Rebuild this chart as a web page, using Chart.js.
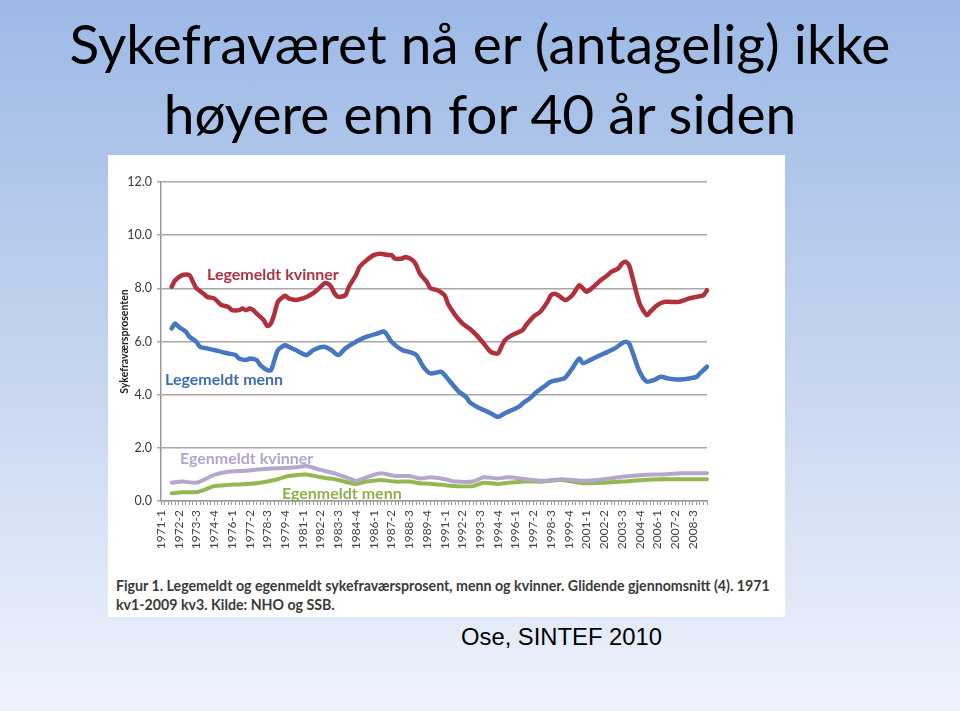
<!DOCTYPE html>
<html lang="no">
<head>
<meta charset="utf-8">
<title>Sykefraværet</title>
<script src="https://cdn.jsdelivr.net/npm/chart.js@4.4.1/dist/chart.umd.min.js"></script>
<style>
    html, body { margin: 0; padding: 0; }
    body {
        width: 960px; height: 711px; overflow: hidden; position: relative;
        background: linear-gradient(180deg, #9cb9e6 0%, #c4d4ef 50%, #eef3fb 100%);
        font-family: Lato, "Open Sans", sans-serif;
    }
    .tittel {
        position: absolute; left: 0; top: 8px; width: 960px;
        text-align: center; font-size: 55px; line-height: 70px; color: #000;
    }
    .figur {
        position: absolute; left: 108px; top: 155px; width: 677px; height: 462px;
        background: #fff;
    }
    #chart { position: absolute; left: 0; top: 0; }
    .etikett { position: absolute; font-weight: bold; font-size: 16px; line-height: 18px; white-space: nowrap; }
    .figurtekst {
        position: absolute; left: 8px; top: 421px; font-size: 14.2px; line-height: 19px;
        font-weight: bold; color: #3a3a3a; white-space: nowrap;
    }
    .kilde {
        position: absolute; left: 461px; top: 623px; font-family: "Liberation Sans", Arial, sans-serif;
        font-size: 23.8px; color: #000;
    }
</style>
</head>
<body>
<div class="tittel">Sykefraværet nå er (antagelig) ikke<br>høyere enn for 40 år siden</div>

<div class="figur">
    <canvas id="chart" width="677" height="410"></canvas>
    <div class="etikett" style="left:99px; top:110px; color:#ad3340;">Legemeldt kvinner</div>
    <div class="etikett" style="left:57px; top:215px; color:#3f6db3;">Legemeldt menn</div>
    <div class="etikett" style="left:72px; top:294px; color:#b3a4cb;">Egenmeldt kvinner</div>
    <div class="etikett" style="left:174px; top:329px; color:#8fb04a;">Egenmeldt menn</div>
    <div class="figurtekst">Figur 1. Legemeldt og egenmeldt sykefraværsprosent, menn og kvinner. Glidende gjennomsnitt (4). 1971<br>kv1-2009 kv3. Kilde: NHO og SSB.</div>
</div>

<div class="kilde">Ose, SINTEF 2010</div>

<script>
// Kvartaler 1971-1 til 2009-3
const kvartaler = [];
for (let aar = 1971; aar <= 2009; aar++) {
    for (let k = 1; k <= 4; k++) {
        if (aar === 2009 && k > 3) break;
        kvartaler.push(aar + '-' + k);
    }
}

const yTicks = [0, 2, 4, 6, 8, 10, 12];

// [kvartal-indeks fra 1971-1, prosent]
const legemeldtKvinner = [
    [3, 8.06], [4, 8.3], [6, 8.5], [8, 8.5], [9, 8.25], [10, 8.0], [12, 7.8], [13, 7.68],
    [15, 7.62], [16, 7.5], [17, 7.37], [19, 7.3], [20, 7.18], [22, 7.18], [23, 7.24], [24, 7.18],
    [25, 7.24], [26, 7.18], [27, 7.05], [29, 6.8], [30, 6.58], [31, 6.68], [32, 7.05], [33, 7.5],
    [35, 7.72], [36, 7.62], [38, 7.56], [40, 7.62], [42, 7.74], [44, 7.93], [46, 8.18], [47, 8.18],
    [48, 8.06], [49, 7.8], [50, 7.68], [52, 7.74], [53, 8.06], [55, 8.5], [56, 8.8], [58, 9.06],
    [60, 9.25], [62, 9.3], [64, 9.25], [65, 9.25], [66, 9.12], [68, 9.12], [69, 9.18], [71, 9.06],
    [72, 8.87], [73, 8.56], [75, 8.24], [76, 8.0], [78, 7.93], [80, 7.74], [81, 7.4], [83, 6.99],
    [85, 6.68], [87, 6.49], [89, 6.24], [91, 5.93], [93, 5.61], [95, 5.55], [96, 5.8], [97, 6.05],
    [99, 6.24], [102, 6.43], [103, 6.62], [105, 6.93], [107, 7.12], [109, 7.49], [110, 7.74], [111, 7.8],
    [112, 7.74], [114, 7.56], [116, 7.74], [118, 8.12], [119, 8.0], [120, 7.87], [122, 8.06], [124, 8.3],
    [126, 8.5], [127, 8.62], [129, 8.75], [130, 8.93], [131, 9.0], [132, 8.87], [133, 8.4], [135, 7.43],
    [137, 6.99], [138, 7.12], [140, 7.37], [142, 7.49], [144, 7.49], [146, 7.49], [149, 7.62], [151, 7.68],
    [153, 7.74], [154, 7.93]
];

const legemeldtMenn = [
    [3, 6.49], [4, 6.68], [5, 6.55], [7, 6.37], [8, 6.18], [10, 5.99], [11, 5.8], [13, 5.74],
    [15, 5.68], [17, 5.61], [19, 5.55], [21, 5.49], [22, 5.36], [24, 5.3], [25, 5.36], [27, 5.3],
    [28, 5.11], [30, 4.92], [31, 4.92], [32, 5.3], [33, 5.68], [35, 5.86], [36, 5.8], [38, 5.68],
    [41, 5.49], [43, 5.68], [46, 5.8], [48, 5.68], [50, 5.49], [52, 5.74], [55, 5.99], [58, 6.18],
    [61, 6.3], [63, 6.37], [65, 5.99], [68, 5.68], [70, 5.61], [72, 5.49], [74, 5.05], [76, 4.8],
    [79, 4.86], [80, 4.74], [82, 4.42], [84, 4.11], [86, 3.92], [87, 3.73], [89, 3.55], [91, 3.42],
    [93, 3.3], [95, 3.17], [97, 3.3], [99, 3.42], [101, 3.55], [102, 3.67], [104, 3.86], [106, 4.11],
    [108, 4.3], [110, 4.49], [112, 4.55], [114, 4.64], [116, 4.99], [118, 5.36], [119, 5.18], [121, 5.3],
    [124, 5.49], [126, 5.61], [128, 5.74], [130, 5.93], [131, 5.99], [132, 5.93], [133, 5.6], [135, 4.86],
    [137, 4.49], [139, 4.55], [141, 4.67], [143, 4.61], [146, 4.57], [149, 4.61], [151, 4.67], [152, 4.8],
    [154, 5.05]
];

const egenmeldtKvinner = [
    [3, 0.69], [6, 0.73], [10, 0.69], [12, 0.79], [15, 0.98], [19, 1.1], [24, 1.14], [28, 1.19],
    [33, 1.23], [38, 1.27], [41, 1.32], [45, 1.17], [49, 1.04], [53, 0.85], [55, 0.76], [58, 0.89],
    [62, 1.04], [66, 0.94], [70, 0.94], [73, 0.85], [76, 0.89], [80, 0.82], [83, 0.73], [88, 0.73],
    [91, 0.89], [95, 0.85], [98, 0.89], [103, 0.82], [108, 0.76], [113, 0.82], [119, 0.76], [125, 0.82],
    [130, 0.91], [136, 0.98], [141, 1.0], [147, 1.04], [154, 1.04]
];

const egenmeldtMenn = [
    [3, 0.29], [6, 0.33], [10, 0.33], [12, 0.41], [15, 0.56], [19, 0.6], [24, 0.64], [28, 0.69],
    [32, 0.79], [36, 0.94], [41, 1.0], [45, 0.89], [49, 0.82], [53, 0.69], [55, 0.64], [58, 0.73],
    [62, 0.79], [66, 0.73], [70, 0.73], [73, 0.67], [76, 0.65], [80, 0.6], [83, 0.56], [88, 0.56],
    [91, 0.69], [95, 0.64], [98, 0.69], [103, 0.73], [108, 0.73], [113, 0.79], [119, 0.67], [125, 0.69],
    [130, 0.73], [136, 0.79], [141, 0.82], [147, 0.82], [154, 0.82]
];

function tilPunkter(serie) {
    return serie.map(p => ({ x: kvartaler[p[0]], y: p[1] }));
}

function lagSerie(serie, farge, bredde) {
    return {
        data: tilPunkter(serie),
        borderColor: farge,
        borderWidth: bredde,
        pointRadius: 0,
        tension: 0.25,
        borderCapStyle: 'round',
        borderJoinStyle: 'round'
    };
}

const ctx = document.getElementById('chart').getContext('2d');
new Chart(ctx, {
    type: 'line',
    data: {
        labels: kvartaler,
        datasets: [
            lagSerie(egenmeldtKvinner, '#b5a6cc', 4),
            lagSerie(egenmeldtMenn, '#94b851', 4),
            lagSerie(legemeldtMenn, '#4677c0', 4.5),
            lagSerie(legemeldtKvinner, '#b0303c', 4.5)
        ]
    },
    options: {
        responsive: false,
        animation: false,
        layout: { padding: { top: 27, right: 78, left: 0, bottom: 0 } },
        plugins: {
            legend: { display: false },
            tooltip: { enabled: false }
        },
        scales: {
            x: {
                offset: false,
                grid: { drawOnChartArea: false, tickLength: 4, color: '#999' },
                border: { color: '#999', width: 1.5 },
                ticks: {
                    autoSkip: false,
                    maxRotation: 90,
                    minRotation: 90,
                    padding: 5,
                    color: '#444',
                    font: { family: 'Lato', size: 12 },
                    callback: (v, i) => (i % 5 === 0 ? kvartaler[i] : '')
                },
                afterFit: s => { s.height = 64; }
            },
            y: {
                min: 0,
                max: 12,
                afterBuildTicks: s => { s.ticks = yTicks.map(v => ({ value: v })); },
                ticks: {
                    padding: 5,
                    color: '#3a3a3a',
                    font: { family: 'Lato', size: 12.5 },
                    callback: v => v.toFixed(1)
                },
                grid: { color: '#a8a8a8', lineWidth: 1.5, tickLength: 4 },
                border: { color: '#999', width: 1.5 },
                title: {
                    display: true,
                    text: 'Sykefraværsprosenten',
                    color: '#222',
                    font: { family: 'Lato', size: 10.5, weight: 'bold' },
                    padding: { top: 10, bottom: 0 }
                },
                afterFit: s => { s.width = 53; }
            }
        }
    }
});
</script>
</body>
</html>
